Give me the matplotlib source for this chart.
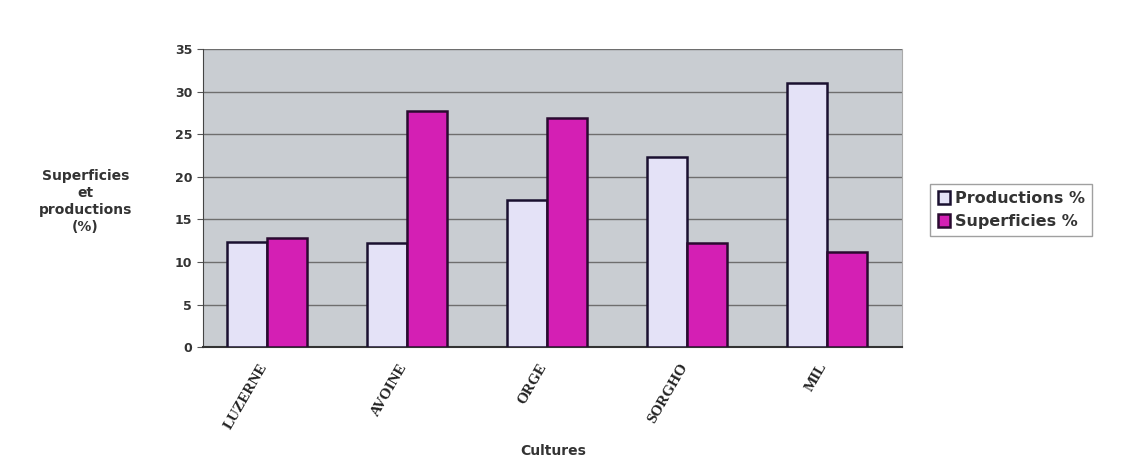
import matplotlib
matplotlib.use("Agg")
import matplotlib.pyplot as plt
import numpy as np

cultures = ["LUZERNE", "AVOINE", "ORGE", "SORGHO", "MIL"]
productions = [12.4, 12.2, 17.3, 22.3, 31.0]
superficies = [12.8, 27.7, 26.9, 12.2, 11.2]
yticks = [0, 5, 10, 15, 20, 25, 30, 35]

fig = plt.figure(figsize=(11.38, 4.58), dpi=100)
ax = fig.add_axes([0.178, 0.242, 0.615, 0.651])
ax.set_facecolor("#c9cdd2")

x = np.arange(len(cultures))
w = 0.285
shift = -0.04
ax.bar(x + shift - w / 2, productions, w, color="#e4e2f7", edgecolor="#1a1030",
       linewidth=1.8, label="Productions %", zorder=3)
ax.bar(x + shift + w / 2, superficies, w, color="#d41fb4", edgecolor="#2a0a30",
       linewidth=1.8, label="Superficies %", zorder=3)

ax.set_xlim(-0.5, len(cultures) - 0.5)
ax.set_ylim(0, 35)
ax.set_yticks(yticks)
ax.set_yticklabels([str(t) for t in yticks], fontsize=9, fontweight="bold",
                   color="#333333")
ax.yaxis.grid(True, color="#6e6e6e", linewidth=1.0, zorder=1)
ax.set_axisbelow(True)

# labels sit a little left of the bar pairs
ax.set_xticks(x + shift - 0.06)
ax.set_xticklabels(cultures, rotation=60, ha="right", rotation_mode="anchor",
                   fontfamily="Liberation Serif", fontsize=11,
                   fontweight="bold", color="#222222")
ax.tick_params(axis="x", length=0, pad=10)
ax.tick_params(axis="y", length=4, color="#555555")

ax.spines["left"].set_color("#444444")
ax.spines["bottom"].set_color("#333333")
ax.spines["bottom"].set_linewidth(1.5)
ax.spines["top"].set_visible(False)
ax.spines["right"].set_color("#aaaaaa")

fig.text(0.075, 0.56, "Superficies\net\nproductions\n(%)", ha="center",
         va="center", fontsize=10, fontweight="bold", color="#333333",
         linespacing=1.3)
fig.text(0.486, 0.0, "Cultures", ha="center", va="bottom", fontsize=10,
         fontweight="bold", color="#333333")

leg = ax.legend(loc="center left", bbox_to_anchor=(1.04, 0.46), frameon=True,
                fancybox=False, edgecolor="#888888",
                prop={"family": "DejaVu Sans", "size": 11.5, "weight": "bold"},
                handlelength=0.8, handleheight=0.8, handletextpad=0.3,
                borderpad=0.45, labelspacing=0.5, borderaxespad=0)
for t in leg.get_texts():
    t.set_color("#333333")

fig.savefig("out.png", dpi=100)
